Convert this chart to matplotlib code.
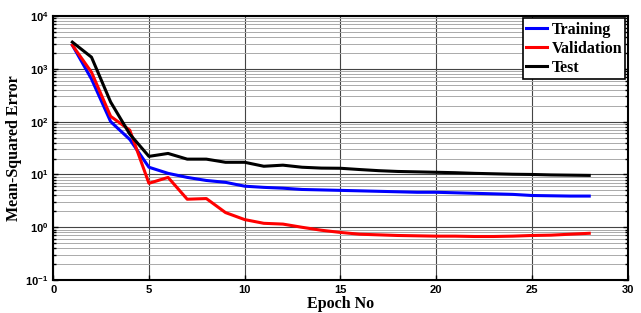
import matplotlib as mpl
mpl.use('Agg')
import matplotlib.pyplot as plt
import numpy as np

# MSE per epoch
epochs = np.arange(1, 29)
train_mse = [2800, 640, 100, 46, 13.7, 10.5, 8.8, 7.7, 7.1, 6.0,
             5.7, 5.5, 5.2, 5.1, 5.0, 4.9, 4.8, 4.7, 4.6, 4.6,
             4.5, 4.4, 4.3, 4.2, 4.0, 3.95, 3.9, 3.9]
val_mse = [2800, 860, 126, 69, 6.8, 8.8, 3.4, 3.5, 1.9, 1.4,
           1.19, 1.15, 1.0, 0.88, 0.80, 0.74, 0.72, 0.70, 0.69, 0.68,
           0.68, 0.67, 0.67, 0.68, 0.70, 0.71, 0.74, 0.77]
test_mse = [3200, 1660, 235, 58, 22, 25, 19.5, 19.5, 17, 17,
            14.3, 15, 13.7, 13.2, 13.1, 12.4, 11.8, 11.4, 11.2, 11.0,
            10.8, 10.5, 10.3, 10.1, 10.0, 9.8, 9.7, 9.6]

fig = plt.figure(figsize=(6.41, 3.13), dpi=100)
ax = fig.add_axes([0.083, 0.105, 0.896, 0.844])

ax.plot(epochs, train_mse, color='#0000ff', lw=2.2, label='Training')
ax.plot(epochs, val_mse, color='#ff0000', lw=2.2, label='Validation')
ax.plot(epochs, test_mse, color='black', lw=2.2, label='Test')

ax.set_yscale('log')
ax.set_xlim(0, 30)
ax.set_ylim(1e-1, 1e4)
ax.set_xticks(np.arange(0, 31, 5))
ax.yaxis.set_major_locator(mpl.ticker.LogLocator(base=10, numticks=10))
ax.yaxis.set_minor_locator(mpl.ticker.LogLocator(base=10, subs=np.arange(2, 10), numticks=20))
ax.yaxis.set_minor_formatter(mpl.ticker.NullFormatter())

ax.grid(True, which='major', color='#444444', lw=0.8)
ax.grid(True, which='minor', axis='y', color='#aaaaaa', lw=0.7)
ax.tick_params(which='both', direction='in', labelsize=8, width=1, top=False, right=True)
for lab in ax.get_xticklabels() + ax.get_yticklabels():
    lab.set_fontweight('bold')
    lab.set_family('Liberation Sans')
for s in ax.spines.values():
    s.set_linewidth(1.5)

ax.set_xlabel('Epoch No', fontsize=11.5, fontweight='bold', family='Liberation Serif', labelpad=1)
ax.set_ylabel('Mean-Squared Error', fontsize=11.5, fontweight='bold', family='Liberation Serif', labelpad=2)

leg = ax.legend(loc='upper right', prop={'family': 'Liberation Serif', 'weight': 'bold', 'size': 11.5},
                fancybox=False, edgecolor='black', framealpha=1, handlelength=1.3,
                handletextpad=0.3, borderpad=0.2, labelspacing=0.2, borderaxespad=0.15)
leg.get_frame().set_linewidth(1.2)

plt.savefig('out.png', dpi=100)
